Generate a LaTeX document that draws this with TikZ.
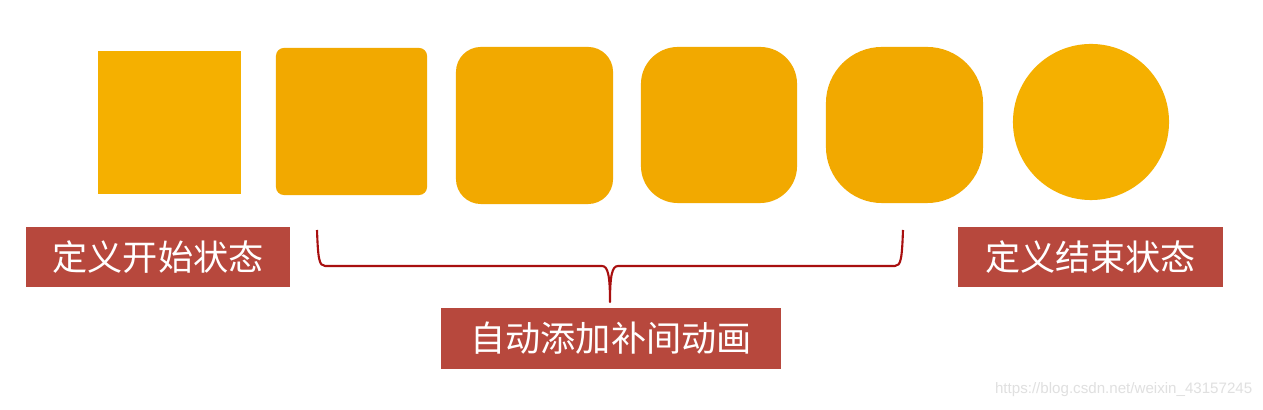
\documentclass[tikz,border=0pt]{standalone}
\usepackage{fontspec}
\newfontfamily\cjk{Noto Sans CJK SC}
\newfontfamily\wmfont{Liberation Sans}
\definecolor{amber}{HTML}{F2A900}
\definecolor{amberlight}{HTML}{F5B000}
\definecolor{brick}{HTML}{B7483D}
\definecolor{bracered}{HTML}{A80F0F}
\tikzset{
    blob/.style={fill=amber, inner sep=0pt},
    tag/.style={fill=brick, text=white, inner sep=0pt, minimum height=0.6cm,
        font=\cjk\fontsize{10}{12}\selectfont}
}

\begin{document}
\begin{tikzpicture}[x=0.01cm,y=-0.01cm]
    \useasboundingbox[fill=white] (0,0) rectangle (1263,410);
    \node[blob, fill=amberlight, minimum width=1.43cm, minimum height=1.43cm] (s1) at (169.5,122.5) {};
    \node[blob, rounded corners=0.08cm, minimum width=1.51cm, minimum height=1.47cm] (s2) at (351.5,121.5) {};
    \node[blob, rounded corners=0.25cm, minimum width=1.57cm, minimum height=1.57cm] (s3) at (534.5,125.5) {};
    \node[blob, rounded corners=0.37cm, minimum width=1.56cm, minimum height=1.56cm] (s4) at (719,125) {};
    \node[blob, rounded corners=0.56cm, minimum width=1.57cm, minimum height=1.56cm] (s5) at (904.5,125) {};
    \node[blob, fill=amberlight, circle, minimum size=1.56cm] (s6) at (1091,122) {};

    \node[tag, minimum width=2.64cm] (startlbl) at (158,257) {定义开始状态};
    \node[tag, minimum width=2.65cm] (endlbl) at (1090.5,257) {定义结束状态};
    \node[tag, minimum width=3.40cm, minimum height=0.61cm] (tweenlbl) at (611,338.5) {自动添加补间动画};

    \coordinate (bl) at (317,230);
    \coordinate (br) at (903,230);
    \coordinate (bm) at (610,302);
    \draw[bracered, line width=0.6pt, line join=round]
        (bl) .. controls (318,258) and (319,266) .. (325,266) -- (602,266)
        .. controls (608,266) and (610,276) .. (bm)
        .. controls (610,276) and (612,266) .. (618,266) -- (895,266)
        .. controls (901,266) and (902,258) .. (br);

    \node[text=black!12, font=\wmfont\fontsize{4.3}{5}\selectfont, anchor=east, inner sep=0pt] (wm) at (1253,390) {https://blog.csdn.net/weixin\_43157245};
\end{tikzpicture}
\end{document}
